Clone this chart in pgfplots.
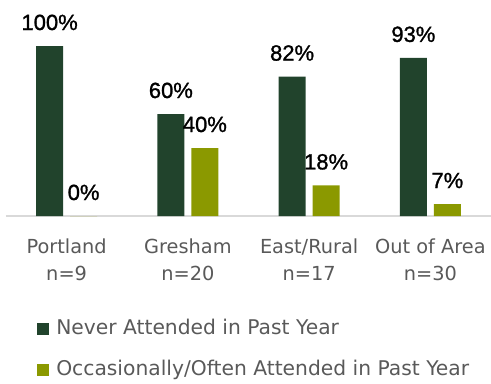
\documentclass[border=0pt]{standalone}
\usepackage{fontspec}
\setmainfont{DejaVu Sans}
\newfontfamily\labfont[FakeBold=1.2]{Liberation Sans}
\usepackage{pgfplots}
\pgfplotsset{compat=1.18}
\definecolor{darkgr}{RGB}{33,67,44}
\definecolor{olive}{RGB}{139,153,0}
\definecolor{txtgr}{RGB}{89,89,89}
\begin{document}
\begin{tikzpicture}
\begin{axis}[
  at={(0,0)}, anchor=south west,
  scale only axis, width=363.75pt, height=127.5pt,
  ymin=0, ymax=100, xmin=-0.5, xmax=3.5,
  ybar=5.25pt, bar width=20.25pt,
  axis x line*=bottom, axis y line=none,
  x axis line style={draw=black!15, line width=1.1pt},
  xtick={0,1,2,3}, major tick length=0pt,
  xticklabels={{Portland\\n=9},{Gresham\\n=20},{East/Rural\\n=17},{Out of Area\\n=30}},
  xticklabel style={align=center, font=\fontsize{14.5}{20.25}\selectfont, text=txtgr, yshift=-13.75pt},
  /pgf/number format/assume math mode=true,
  nodes near coords={\pgfmathprintnumber[fixed,precision=0]{\pgfplotspointmeta}\%},
  nodes near coords style={font=\labfont\fontsize{16.5}{19}\selectfont, text=black, anchor=base, inner sep=0pt, yshift=12pt},
  clip=false,
  legend style={draw=none, fill=none, inner sep=0pt, at={(0.0639,-0.612)}, anchor=north west,
    font=\fontsize{15.2}{17}\selectfont, text=txtgr, row sep=17.25pt,
    nodes={inner sep=0pt, text height=10.5pt, text depth=3pt},
    /tikz/every odd column/.append style={column sep=5.25pt}},
  legend cell align=left,
  legend image code/.code={\fill[#1, draw=none] (0pt,-4.5pt) rectangle (9pt,4.5pt);},
]
\addplot[fill=darkgr, draw=none] coordinates {(0,100) (1,60) (2,82) (3,93)};
\addplot[fill=olive, draw=none] coordinates {(0,0) (1,40) (2,18) (3,7)};
\legend{Never Attended in Past Year, Occasionally/Often Attended in Past Year}
\end{axis}
\pgfresetboundingbox
\path (-4.5pt,-125.25pt) rectangle (363.75pt,162pt);
\end{tikzpicture}
\end{document}
